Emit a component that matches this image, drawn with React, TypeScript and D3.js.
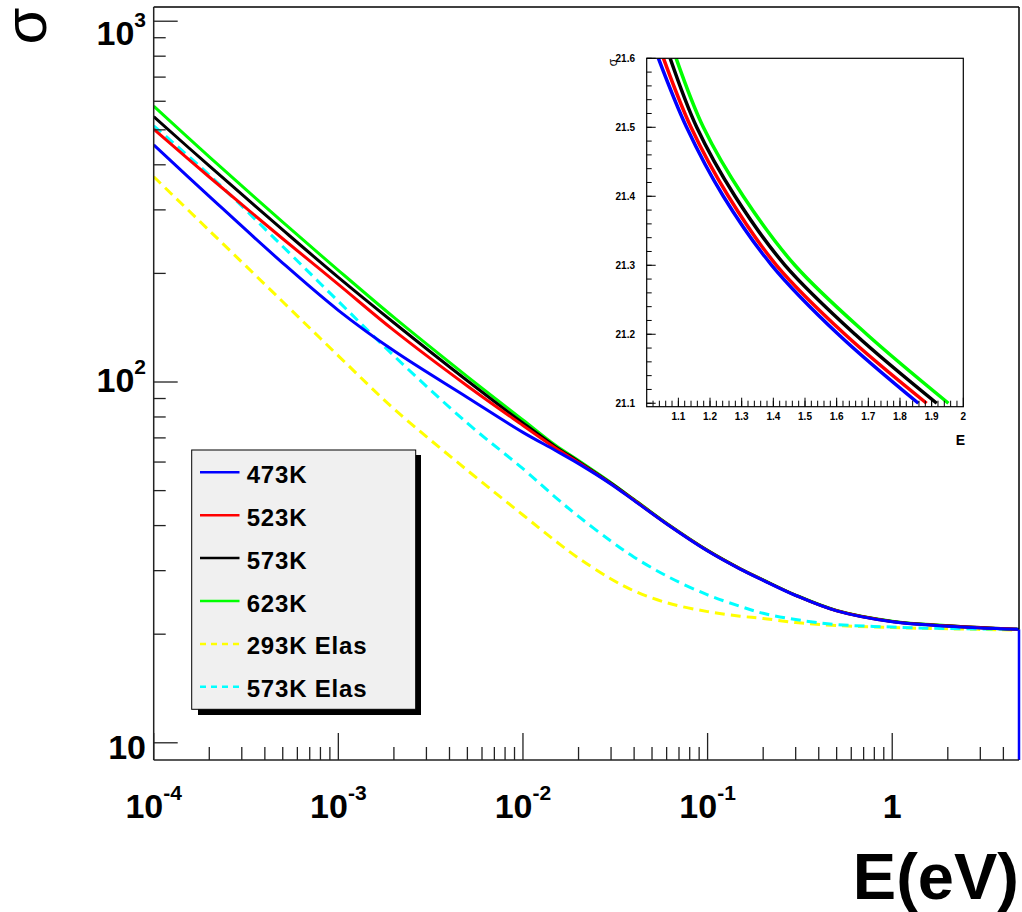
import React from 'react';
import * as d3 from 'd3';

// ---------------- data ----------------
const energies = [1e-4, 2e-4, 5e-4, 1e-3, 2e-3, 5e-3, 1e-2, 1.5e-2, 2e-2, 3e-2, 4e-2, 6e-2, 0.1, 0.15, 0.2, 0.3, 0.5, 1, 2, 4.86];
const sigma473 = [454, 327, 213.6, 158, 122, 90.6, 72.5, 64.6, 59.4, 52.1, 46.9, 40.4, 34.0, 30.3, 28.2, 25.6, 23.2, 21.64, 21.05, 20.62];
const sigma523 = [502, 370, 249.5, 186.5, 139, 97.5, 75.8, 65.6, 59.8, 52.2, 47.0, 40.45, 34.05, 30.33, 28.22, 25.62, 23.22, 21.67, 21.07, 20.62];
const sigma573 = [544, 397, 264, 195, 146, 100.8, 77, 66.2, 60.2, 52.4, 47.1, 40.5, 34.1, 30.36, 28.25, 25.64, 23.24, 21.7, 21.09, 20.62];
const sigma623 = [582, 421, 277.5, 204, 151, 103.5, 78.5, 66.8, 60.6, 52.6, 47.25, 40.6, 34.15, 30.4, 28.3, 25.67, 23.27, 21.73, 21.12, 20.62];
const sigma293Elas = [370.7, 262.9, 166.9, 118.2, 84.3, 56.9, 42.8, 36.25, 32.5, 28.45, 26.36, 24.45, 23.1, 22.44, 22.11, 21.54, 21.13, 20.86, 20.7, 20.53];
const sigma573Elas = [513, 375, 237.5, 167.4, 118.2, 76.9, 57.5, 47.9, 42.4, 36.2, 32.7, 29.0, 25.7, 23.9, 22.85, 21.96, 21.27, 20.93, 20.73, 20.64];

const seriesNames = ['473K', '523K', '573K', '623K', '293K Elas', '573K Elas'];
const seriesColors = ['#0000ff', '#ff0000', '#000000', '#00ff00', '#ffff00', '#00ffff'];
const seriesDashed = [false, false, false, false, true, true];
const seriesValues = [sigma473, sigma523, sigma573, sigma623, sigma293Elas, sigma573Elas];
const drawOrder = [4, 5, 3, 2, 1, 0];

// inset (zoom around 1-2 eV): energies at which each curve crosses the sigma levels
const insetSigmaLevels = [21.6, 21.5, 21.4, 21.3, 21.2, 21.1];
const insetE473 = [1.037, 1.126, 1.242, 1.395, 1.605, 1.858];
const insetE523 = [1.053, 1.14, 1.258, 1.41, 1.626, 1.884];
const insetE573 = [1.074, 1.158, 1.279, 1.437, 1.658, 1.916];
const insetE623 = [1.093, 1.179, 1.305, 1.468, 1.695, 1.953];
const insetSeries = [insetE473, insetE523, insetE573, insetE623];

const xMajorTicks = [1e-4, 1e-3, 1e-2, 1e-1, 1];
const xTickBase = ['10', '10', '10', '10', '1'];
const xTickSup = ['-4', '-3', '-2', '-1', ''];
const yMajorTicks = [10, 100, 1000];
const yTickBase = ['10', '10', '10'];
const yTickSup = ['', '2', '3'];

const insetXTicks = [1.1, 1.2, 1.3, 1.4, 1.5, 1.6, 1.7, 1.8, 1.9, 2];
const insetXLabels = ['1.1', '1.2', '1.3', '1.4', '1.5', '1.6', '1.7', '1.8', '1.9', '2'];
const insetYTicks = [21.1, 21.2, 21.3, 21.4, 21.5, 21.6];
const insetYLabels = ['21.1', '21.2', '21.3', '21.4', '21.5', '21.6'];

// ---------------- layout ----------------
const W = 1022, H = 912;
const F = { left: 153.7, right: 1019, top: 7, bottom: 760 };
const X_DOMAIN: [number, number] = [1e-4, 4.86];
const Y_DOMAIN: [number, number] = [8.96, 1095];
const INS = { left: 646.7, right: 963.3, top: 58.3, bottom: 406.7 };
const INS_X: [number, number] = [1.0, 2.0];
const INS_Y: [number, number] = [21.095, 21.6];

const FONT = "'Liberation Sans', Arial, Helvetica, sans-serif";

export default function App() {
  const xs = d3.scaleLog().domain(X_DOMAIN).range([F.left, F.right]);
  const ys = d3.scaleLog().domain(Y_DOMAIN).range([F.bottom, F.top]);
  const ixs = d3.scaleLinear().domain(INS_X).range([INS.left, INS.right]);
  const iys = d3.scaleLinear().domain(INS_Y).range([INS.bottom, INS.top]);

  const line = d3
    .line<[number, number]>()
    .x((d) => xs(d[0]))
    .y((d) => ys(d[1]))
    .curve(d3.curveCatmullRom.alpha(0.5));

  const insetLine = d3
    .line<[number, number]>()
    .x((d) => ixs(d[0]))
    .y((d) => iys(d[1]))
    .curve(d3.curveCatmullRom.alpha(0.5));

  // minor ticks
  const xMinor: number[] = [];
  for (let e = -4; e <= 0; e++) {
    for (let m = 2; m <= 9; m++) {
      const v = m * Math.pow(10, e);
      if (v >= X_DOMAIN[0] && v <= X_DOMAIN[1]) xMinor.push(v);
    }
  }
  const yMinor: number[] = [];
  for (let e = 1; e <= 2; e++) {
    for (let m = 2; m <= 9; m++) yMinor.push(m * Math.pow(10, e));
  }
  const insXMinor: number[] = [];
  for (let v = 1.02; v < 2.0; v += 0.02) insXMinor.push(+v.toFixed(2));
  const insYMinor: number[] = [];
  for (let v = 21.1; v < 21.6; v += 0.02) insYMinor.push(+v.toFixed(2));

  const blueLast = sigma473[sigma473.length - 1];
  const eLast = energies[energies.length - 1];

  return (
    <svg
      width={W}
      height={H}
      style={{ position: 'absolute', left: 0, top: 0, background: '#fff' }}
      fontFamily={FONT}
    >
      <rect x={0} y={0} width={W} height={H} fill="#fff" />
      <defs>
        <clipPath id="mainClip">
          <rect x={F.left} y={F.top} width={F.right - F.left} height={F.bottom - F.top} />
        </clipPath>
        <clipPath id="insetClip">
          <rect x={INS.left} y={INS.top} width={INS.right - INS.left} height={INS.bottom - INS.top} />
        </clipPath>
      </defs>

      {/* curves */}
      <g clipPath="url(#mainClip)">
        {drawOrder.map((i) => (
          <path
            key={i}
            d={line(energies.map((e, k) => [e, seriesValues[i][k]] as [number, number])) || ''}
            fill="none"
            stroke={seriesColors[i]}
            strokeWidth={3}
            strokeDasharray={seriesDashed[i] ? '10 6' : undefined}
          />
        ))}
      </g>
      {/* histogram drop at the end of the 473K curve */}
      <line
        x1={xs(eLast)}
        x2={xs(eLast)}
        y1={ys(blueLast)}
        y2={F.bottom}
        stroke={seriesColors[0]}
        strokeWidth={2.5}
      />

      {/* frame */}
      <line x1={F.left} x2={F.right} y1={F.top} y2={F.top} stroke="#000" strokeWidth={1.5} />
      <line x1={F.right} x2={F.right} y1={F.top} y2={ys(blueLast)} stroke="#000" strokeWidth={1.5} />
      <line x1={F.left} x2={F.left} y1={F.top} y2={F.bottom} stroke="#222" strokeWidth={1.5} />
      <line x1={F.left} x2={F.right} y1={F.bottom} y2={F.bottom} stroke="#222" strokeWidth={1.5} />

      {/* x ticks */}
      {xMajorTicks.map((v) => (
        <line key={'xM' + v} x1={xs(v)} x2={xs(v)} y1={F.bottom} y2={F.bottom - 27} stroke="#222" strokeWidth={1.3} />
      ))}
      {xMinor.map((v) => (
        <line key={'xm' + v} x1={xs(v)} x2={xs(v)} y1={F.bottom} y2={F.bottom - 13} stroke="#222" strokeWidth={1.3} />
      ))}
      {xMajorTicks.map((v, i) => (
        <text key={'xl' + v} x={xs(v)} y={818} textAnchor="middle" fontSize={34} fontWeight="bold" fill="#000">
          {xTickBase[i]}
          {xTickSup[i] && (
            <tspan dy={-18} fontSize={21}>
              {xTickSup[i]}
            </tspan>
          )}
        </text>
      ))}

      {/* y ticks */}
      {yMajorTicks.map((v) => (
        <line key={'yM' + v} x1={F.left} x2={F.left + 24} y1={ys(v)} y2={ys(v)} stroke="#222" strokeWidth={1.3} />
      ))}
      {yMinor.map((v) => (
        <line key={'ym' + v} x1={F.left} x2={F.left + 12} y1={ys(v)} y2={ys(v)} stroke="#222" strokeWidth={1.3} />
      ))}
      {yMajorTicks.map((v, i) => (
        <text
          key={'yl' + v}
          x={146}
          y={Math.max(ys(v) + (yTickSup[i] ? 10 : 16), 45)}
          textAnchor="end"
          fontSize={34}
          fontWeight="bold"
          fill="#000"
        >
          {yTickBase[i]}
          {yTickSup[i] && (
            <tspan dy={-18} fontSize={21}>
              {yTickSup[i]}
            </tspan>
          )}
        </text>
      ))}

      {/* axis titles */}
      <text transform="translate(46,26) rotate(-90)" textAnchor="middle" fontSize={60} fill="#000">
        σ
      </text>
      <text x={1019} y={899} textAnchor="end" fontSize={65} fontWeight="bold" fill="#000">
        E(eV)
      </text>

      {/* legend */}
      <g>
        <rect x={198} y={455} width={223} height={260} fill="#000" />
        <rect x={191.7} y={450} width={224} height={259.3} fill="#f0f0f0" stroke="#000" strokeWidth={1} />
        {seriesNames.map((name, i) => {
          const yy = 472.3 + i * 42.9;
          return (
            <g key={name}>
              <line
                x1={200}
                x2={239.5}
                y1={yy}
                y2={yy}
                stroke={seriesColors[i]}
                strokeWidth={2.5}
                strokeDasharray={seriesDashed[i] ? '6 5' : undefined}
              />
              <text x={246.7} y={yy + 10.5} fontSize={24} letterSpacing={0.8} fontWeight="bold" fill="#000">
                {name}
              </text>
            </g>
          );
        })}
      </g>

      {/* inset */}
      <g>
        <rect x={INS.left} y={INS.top} width={INS.right - INS.left} height={INS.bottom - INS.top} fill="#fff" />
        <g clipPath="url(#insetClip)">
          {insetSeries.map((arr, i) => (
            <path
              key={'ins' + i}
              d={insetLine(arr.map((e, k) => [e, insetSigmaLevels[k]] as [number, number])) || ''}
              fill="none"
              stroke={seriesColors[i]}
              strokeWidth={3.5}
            />
          ))}
        </g>
        <rect
          x={INS.left}
          y={INS.top}
          width={INS.right - INS.left}
          height={INS.bottom - INS.top}
          fill="none"
          stroke="#000"
          strokeWidth={1.2}
        />
        {insetXTicks.map((v) => (
          <line key={'ixM' + v} x1={ixs(v)} x2={ixs(v)} y1={INS.bottom} y2={INS.bottom - 9} stroke="#000" strokeWidth={1} />
        ))}
        {insXMinor.map((v) => (
          <line key={'ixm' + v} x1={ixs(v)} x2={ixs(v)} y1={INS.bottom} y2={INS.bottom - 6} stroke="#000" strokeWidth={1} />
        ))}
        {insetXTicks.map((v, i) => (
          <text key={'ixl' + v} x={ixs(v)} y={420} textAnchor="middle" fontSize={10} fontWeight="bold" fill="#000">
            {insetXLabels[i]}
          </text>
        ))}
        {insetYTicks.map((v) => (
          <line key={'iyM' + v} x1={INS.left} x2={INS.left + 9} y1={iys(v)} y2={iys(v)} stroke="#000" strokeWidth={1} />
        ))}
        {insYMinor.map((v) => (
          <line key={'iym' + v} x1={INS.left} x2={INS.left + 5} y1={iys(v)} y2={iys(v)} stroke="#000" strokeWidth={1} />
        ))}
        {insetYTicks.map((v, i) => (
          <text key={'iyl' + v} x={635} y={iys(v) + 3.5} textAnchor="end" fontSize={10} fontWeight="bold" fill="#000">
            {insetYLabels[i]}
          </text>
        ))}
        <text transform="translate(617,62.5) rotate(-90)" textAnchor="middle" fontSize={12} fill="#000">
          σ
        </text>
        <text x={965} y={445} textAnchor="end" fontSize={14} fontWeight="bold" fill="#000">
          E
        </text>
      </g>
    </svg>
  );
}
